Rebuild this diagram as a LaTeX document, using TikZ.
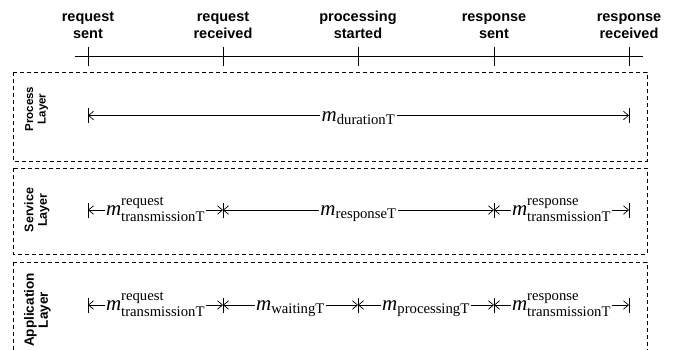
\documentclass[tikz,border=0pt]{standalone}
\usepackage{amsmath}
\usepackage{fontspec}
\setmainfont{Liberation Serif}
\setsansfont{Liberation Sans}
\usetikzlibrary{arrows.meta}
\tikzset{
  x=1pt, y=-1pt,
  tline/.style={line width=0.9pt},
  hdr/.style={font=\sffamily\bfseries\fontsize{14.5}{16.5}\selectfont, align=center, anchor=base, inner sep=0pt},
  layerbox/.style={draw, dash pattern=on 4pt off 3pt, line width=0.8pt},
  laylab/.style={font=\sffamily\bfseries, align=center, rotate=90, inner sep=0pt},
  dimline/.style={line width=0.7pt,
    {Straight Barb[length=5pt,width=8.5pt,line width=0.7pt]}-{Straight Barb[length=5pt,width=8.5pt,line width=0.7pt]}},
  endbar/.style={line width=0.8pt},
  mlab/.style={fill=white, inner sep=1.5pt, font=\fontsize{21}{21}\selectfont, anchor=base, yshift=-5.5pt}
}
\newcommand\mT[2]{$\text{\itshape m}^{\text{#1}}_{\text{#2}}$}
\newcommand\mS[1]{$\text{\itshape m}_{\text{#1}}$}
\begin{document}
\begin{tikzpicture}
\useasboundingbox (0,0) rectangle (678,349);
% timeline
\coordinate (tlL) at (75,56);
\coordinate (tlR) at (643,56);
\draw[tline] (tlL) -- (tlR);
\foreach \n/\x in {t1/88,t2/223,t3/358,t4/494,t5/629}{
  \coordinate (\n) at (\x,56);
  \draw[tline] ([yshift=9pt]\n) -- ([yshift=-10pt]\n);
}
\node[hdr] (h1) at (88,38) {request\\sent};
\node[hdr] (h2) at (223,38) {request\\received};
\node[hdr] (h3) at (358,38) {processing\\started};
\node[hdr] (h4) at (494,38) {response\\sent};
\node[hdr] (h5) at (629,38) {response\\received};
% layer boxes
\draw[layerbox] (13,72) rectangle (647,161);
\draw[layerbox] (13,168) rectangle (647,254);
\draw[layerbox] (13,262) rectangle (647,365);
\node[laylab, font=\sffamily\bfseries\fontsize{11.5}{12.5}\selectfont] (lp) at (36.5,109) {Process\\Layer};
\node[laylab, font=\sffamily\bfseries\fontsize{12.5}{13.5}\selectfont] (ls) at (37,210) {Service\\Layer};
\node[laylab, font=\sffamily\bfseries\fontsize{13.5}{14}\selectfont] (la) at (37.5,310) {Application\\Layer};
% process layer
\coordinate (p1) at (88,115.5);
\coordinate (p5) at (629,115.5);
\foreach \c in {p1,p5}{\draw[endbar] ([yshift=7.5pt]\c) -- ([yshift=-7.5pt]\c);}
\draw[dimline] (p1) -- node[mlab] (mp) {\mS{durationT}} (p5);
% service layer
\foreach \n/\x in {s1/88,s2/223,s4/494,s5/629}{
  \coordinate (\n) at (\x,210);
  \draw[endbar] ([yshift=7.5pt]\n) -- ([yshift=-7.5pt]\n);
}
\draw[dimline] (s1) -- node[mlab] (ms1) {\mT{request}{transmissionT}} (s2);
\draw[dimline] (s2) -- node[mlab] (ms2) {\mS{responseT}} (s4);
\draw[dimline] (s4) -- node[mlab] (ms3) {\mT{response}{transmissionT}} (s5);
% application layer
\foreach \n/\x in {a1/88,a2/223,a3/358,a4/494,a5/629}{
  \coordinate (\n) at (\x,305);
  \draw[endbar] ([yshift=7.5pt]\n) -- ([yshift=-7.5pt]\n);
}
\draw[dimline] (a1) -- node[mlab] (ma1) {\mT{request}{transmissionT}} (a2);
\draw[dimline] (a2) -- node[mlab] (ma2) {\mS{waitingT}} (a3);
\draw[dimline] (a3) -- node[mlab] (ma3) {\mS{processingT}} (a4);
\draw[dimline] (a4) -- node[mlab] (ma4) {\mT{response}{transmissionT}} (a5);
\end{tikzpicture}
\end{document}
